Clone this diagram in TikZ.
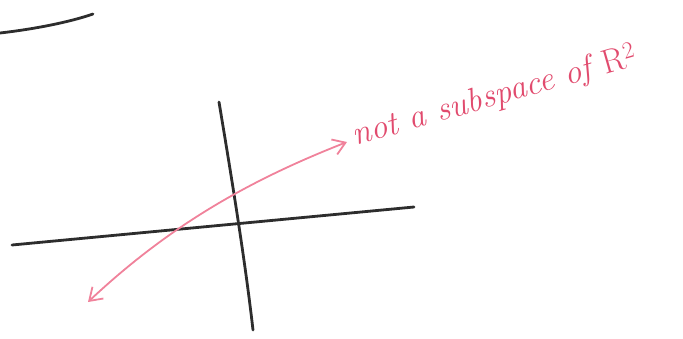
\documentclass[tikz,border=0pt]{standalone}
\usetikzlibrary{arrows.meta}
\definecolor{ink}{RGB}{45,45,45}
\definecolor{pinkink}{RGB}{225,75,110}
\definecolor{pinkline}{RGB}{240,130,155}
\begin{document}
\begin{tikzpicture}[x=1pt,y=-1pt,
  axis/.style={draw=ink,line width=2.8pt,line cap=round},
  pinkarrow/.style={draw=pinkline,line width=1.8pt,{Straight Barb[length=12pt,width=16pt]}-{Straight Barb[length=12pt,width=16pt]}},
  label/.style={text=pinkink,font=\fontsize{34}{40}\selectfont\itshape,inner sep=0pt}]
\useasboundingbox (0,0) rectangle (683,338);
\coordinate (t1) at (0,33);
\coordinate (t2) at (93,14);
\draw[axis] (t1) .. controls (35,29) and (70,22) .. (t2);
\coordinate (v1) at (219,102);
\coordinate (v2) at (253,330);
\draw[axis] (v1) .. controls (232,180) and (245,260) .. (v2);
\coordinate (h1) at (12,245);
\coordinate (h2) at (414,207);
\draw[axis] (h1) -- (h2);
\coordinate (p1) at (88,302);
\coordinate (p2) at (347,142);
\draw[pinkarrow] (p1) .. controls (170,225) and (250,180) .. (p2);
\node[label,rotate=16,anchor=base west] (txt) at (355,146) {not a subspace of {\upshape R}\textsuperscript{\upshape 2}};
\end{tikzpicture}
\end{document}
